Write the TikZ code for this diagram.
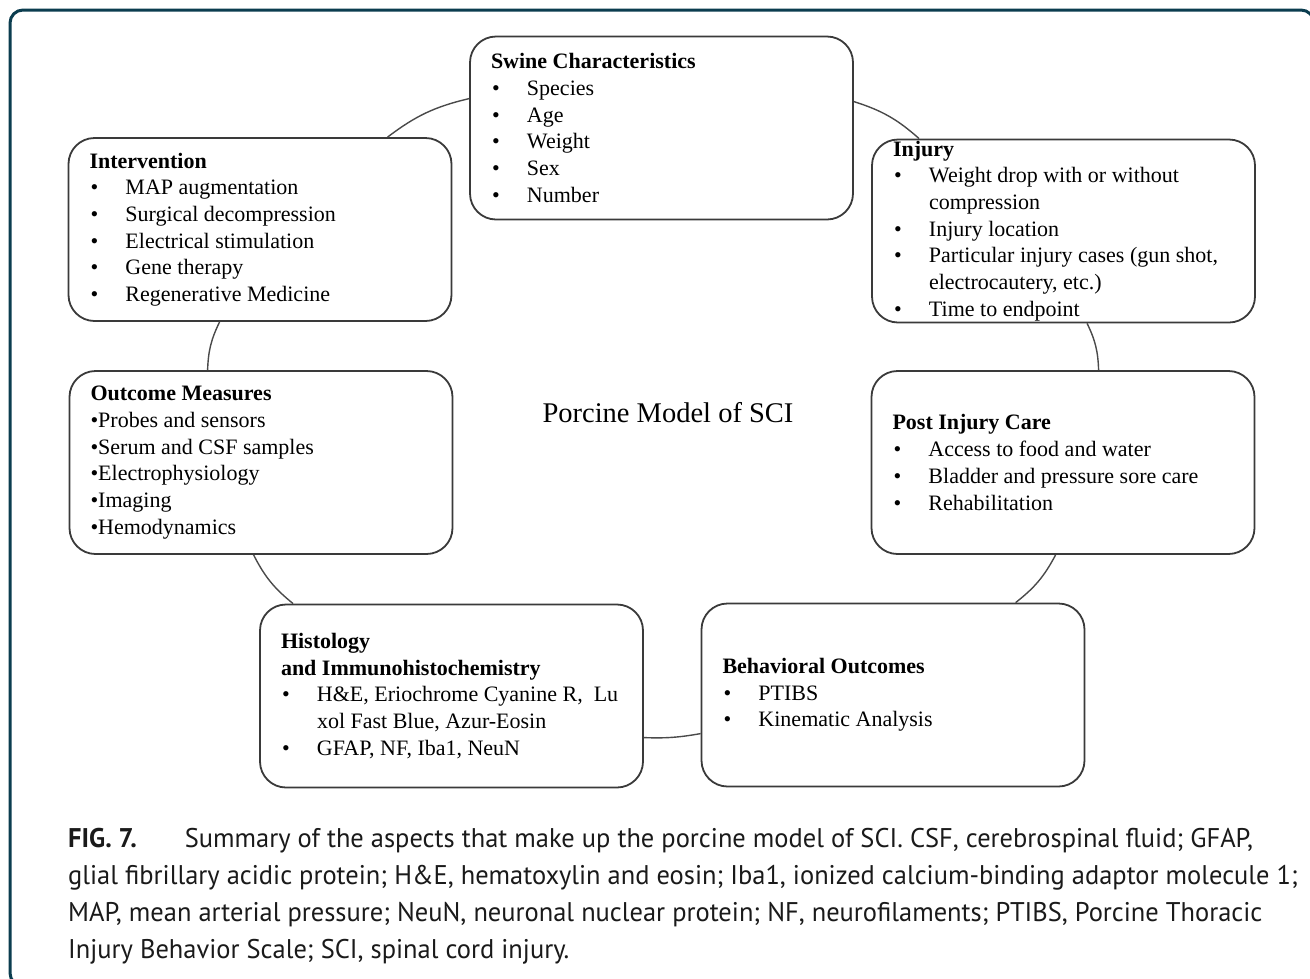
\documentclass[tikz,border=0pt]{standalone}
\usepackage{fontspec}
\setmainfont{Liberation Serif}
\newfontfamily\capfont[FakeStretch=0.98]{PT Sans}
\usetikzlibrary{calc}
\definecolor{framecol}{HTML}{0B3D4F}
\definecolor{boxgray}{HTML}{3A3A3A}
\definecolor{linkgray}{HTML}{4A4A4A}
\definecolor{captext}{HTML}{1A1A1A}
\newcommand{\bul}[1]{\mbox{\hspace*{1pt}\makebox[35pt][l]{\textbullet}#1}}
\newcommand{\cnt}[1]{\mbox{\hspace*{36pt}#1}}
\tikzset{
  box/.style={draw=boxgray, line width=1.8pt, rounded corners=26pt,
    minimum width=383pt, minimum height=183pt, text width=341pt,
    inner xsep=21pt, inner ysep=0pt, align=flush left,
    font=\fontsize{22}{26.7}\selectfont},
  link/.style={draw=linkgray, line width=1.4pt},
  capline/.style={anchor=base west, inner sep=0pt, text=captext,
    font=\capfont\fontsize{27}{37}\selectfont},
}
\begin{document}
\begin{tikzpicture}[x=1pt,y=-1pt]
\useasboundingbox (0,0) rectangle (1310,978);
\fill[white] (0,0) rectangle (1310,978);
\draw[framecol, line width=3pt, rounded corners=13pt] (10,10) rectangle (1314,986);

\node[box] (swine) at (661.5,128) {\textbf{Swine Characteristics}\\
\bul{Species}\\ \bul{Age}\\ \bul{Weight}\\ \bul{Sex}\\ \bul{Number}};

\node[box] (intv) at (260,229.5) {\textbf{Intervention}\\
\bul{MAP augmentation}\\ \bul{Surgical decompression}\\ \bul{Electrical stimulation}\\
\bul{Gene therapy}\\ \bul{Regenerative Medicine}};

\node[box] (injury) at (1063.5,231) {\textbf{Injury}\\
\bul{Weight drop with or without}\\ \cnt{compression}\\ \bul{Injury location}\\
\bul{Particular injury cases (gun shot,}\\ \cnt{electrocautery, etc.)}\\ \bul{Time to endpoint}};

\node[box] (outc) at (261,462.5) {\textbf{Outcome Measures}\\
\textbullet Probes and sensors\\ \textbullet Serum and CSF samples\\ \textbullet Electrophysiology\\
\textbullet Imaging\\ \textbullet Hemodynamics};

\node[box] (post) at (1063,462.5) {\textbf{Post Injury Care}\\
\bul{Access to food and water}\\ \bul{Bladder and pressure sore care}\\ \bul{Rehabilitation}};

\node[box] (hist) at (451.5,696) {\textbf{Histology}\\ \textbf{and Immunohistochemistry}\\
\bul{H\&E, Eriochrome Cyanine R,\ \ Lu}\\ \cnt{xol Fast Blue, Azur-Eosin}\\ \bul{GFAP, NF, Iba1, NeuN}};

\node[box] (behav) at (893,695) {\textbf{Behavioral Outcomes}\\
\bul{PTIBS}\\ \bul{Kinematic Analysis}};

\node[font=\fontsize{28.5}{32}\selectfont, inner sep=0pt] (title) at (668,413) {Porcine Model of SCI};

\draw[link] ($(intv.north west)+(320,0)$) to[bend left=12] ($(swine.north west)+(0,63)$);
\draw[link] ($(swine.north east)+(0,66)$) to[bend left=12] ($(injury.north west)+(48,0)$);
\draw[link] ($(injury.south west)+(216,0)$) to[bend left=12] ($(post.north west)+(228,0)$);
\draw[link] ($(post.south west)+(185,0)$) to[bend left=12] ($(behav.north west)+(315,0)$);
\draw[link] ($(behav.north west)+(0,131)$) to[bend left=6] ($(hist.north east)+(0,134)$);
\draw[link] ($(hist.north west)+(34,0)$) to[bend left=12] ($(outc.south west)+(185,0)$);
\draw[link] ($(outc.north west)+(139,0)$) to[bend left=12] ($(intv.south west)+(152,0)$);

\node[capline] (cap1) at (68,847) {{\bfseries FIG. 7.}\hspace{48pt}Summary of the aspects that make up the porcine model of SCI. CSF, cerebrospinal fluid; GFAP,};
\node[capline] (cap2) at (68,884) {glial fibrillary acidic protein; H\&E, hematoxylin and eosin; Iba1, ionized calcium-binding adaptor molecule 1;};
\node[capline] (cap3) at (68,921) {MAP, mean arterial pressure; NeuN, neuronal nuclear protein; NF, neurofilaments; PTIBS, Porcine Thoracic};
\node[capline] (cap4) at (68,958) {Injury Behavior Scale; SCI, spinal cord injury.};
\end{tikzpicture}
\end{document}
